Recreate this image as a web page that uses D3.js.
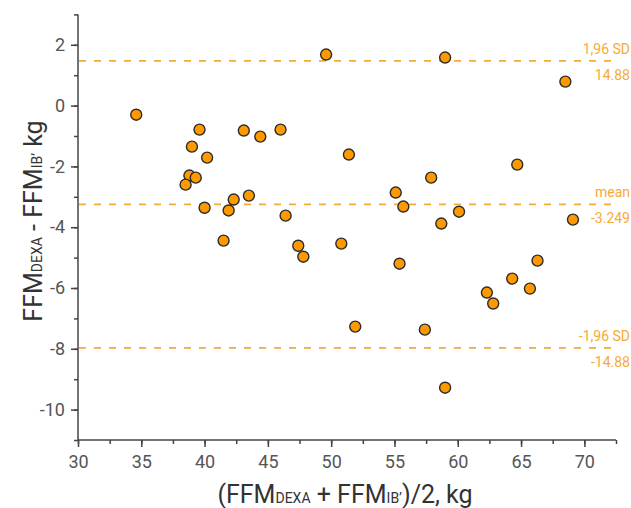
<!DOCTYPE html>
<html>
<head>
<meta charset="utf-8">
<script src="https://cdn.jsdelivr.net/npm/d3@7"></script>
<style>
  body { margin: 0; background: #fff; }
  svg { display: block; font-family: Roboto, "Open Sans", sans-serif; }
</style>
</head>
<body>
<svg id="chart" width="631" height="508"></svg>
<script>
// mean of the two methods (x) and their difference (y)
const meanFFM = [34.6, 39.6, 39.0, 40.2, 38.8, 39.3, 38.5, 40.0, 41.9, 42.3, 43.5, 41.5, 43.1,
  44.4, 46.0, 46.4, 47.4, 47.8, 49.6, 51.4, 50.8, 51.9, 55.1, 55.7, 55.4, 57.9, 57.4, 58.7,
  59.0, 60.1, 59.0, 62.3, 62.8, 64.7, 64.3, 65.7, 66.3, 68.5, 69.1];
const diffFFM = [-0.30, -0.79, -1.35, -1.71, -2.30, -2.37, -2.60, -3.36, -3.45, -3.09, -2.96, -4.44, -0.82,
  -1.02, -0.79, -3.62, -4.61, -4.97, 1.68, -1.61, -4.54, -7.27, -2.86, -3.32, -5.20, -2.37, -7.37, -3.88,
  1.58, -3.49, -9.28, -6.15, -6.51, -1.94, -5.69, -6.02, -5.10, 0.79, -3.75];

const refValues = [1.47, -3.249, -7.97];
const refNames = ['1,96 SD', 'mean', '-1,96 SD'];
const refLabels = ['14.88', '-3.249', '-14.88'];

const xTicks = [30, 35, 40, 45, 50, 55, 60, 65, 70];
const yTicks = [2, 0, -2, -4, -6, -8, -10];

const svg = d3.select('#chart');
const orange = '#ff9900';
const dashColor = '#f7aa35';

const x = d3.scaleLinear().domain([30, 72.5]).range([78, 616]);
const y = d3.scaleLinear().domain([-11, 3]).range([440, 14.4]);

// minor ticks
svg.append('g')
  .attr('transform', 'translate(0,440)')
  .call(d3.axisBottom(x).tickValues(d3.range(30, 72.6, 2.5)).tickSize(4).tickFormat(''))
  .call(g => g.select('.domain').remove())
  .selectAll('line').attr('stroke', '#444').attr('stroke-width', 1.5);

svg.append('g')
  .attr('transform', 'translate(78,0)')
  .call(d3.axisLeft(y).tickValues(d3.range(-11, 3.1, 1)).tickSize(4).tickFormat(''))
  .call(g => g.select('.domain').remove())
  .selectAll('line').attr('stroke', '#444').attr('stroke-width', 1.5);

// major axes
const xAxis = svg.append('g')
  .attr('transform', 'translate(0,440)')
  .call(d3.axisBottom(x).tickValues(xTicks).tickSize(7).tickSizeOuter(0).tickPadding(8)
    .tickFormat(d => String(d)));

const yAxis = svg.append('g')
  .attr('transform', 'translate(78,0)')
  .call(d3.axisLeft(y).tickValues(yTicks).tickSize(7).tickSizeOuter(0).tickPadding(6)
    .tickFormat(d => String(d)));

[xAxis, yAxis].forEach(ax => {
  ax.select('.domain').attr('stroke', '#444').attr('stroke-width', 1.5);
  ax.selectAll('.tick line').attr('stroke', '#444').attr('stroke-width', 1.5);
  ax.selectAll('.tick text')
    .attr('fill', '#555')
    .style('font-size', '18px')
    .style('font-family', 'Roboto, sans-serif');
});
xAxis.select('.domain').attr('d', `M${x(30)},0H${x(72.5)}`);
yAxis.select('.domain').attr('d', `M0,${y(-11)}V${y(3)}`);

// reference lines
svg.append('g').selectAll('line')
  .data(refValues)
  .join('line')
  .attr('x1', x(30) + 1)
  .attr('x2', 612)
  .attr('y1', d => y(d))
  .attr('y2', d => y(d))
  .attr('stroke', dashColor)
  .attr('stroke-width', 1.8)
  .attr('stroke-dasharray', '7,8');

const refG = svg.append('g')
  .attr('fill', dashColor)
  .style('font-size', '14px')
  .attr('text-anchor', 'end');

refG.selectAll('text.name')
  .data(refValues)
  .join('text')
  .attr('class', 'name')
  .attr('x', 630)
  .attr('y', d => y(d) - 7)
  .text((d, i) => refNames[i]);

refG.selectAll('text.val')
  .data(refValues)
  .join('text')
  .attr('class', 'val')
  .attr('x', 630)
  .attr('y', d => y(d) + 19)
  .text((d, i) => refLabels[i]);

// points
svg.append('g').selectAll('circle')
  .data(meanFFM)
  .join('circle')
  .attr('cx', d => x(d))
  .attr('cy', (d, i) => y(diffFFM[i]))
  .attr('r', 5.5)
  .attr('fill', orange)
  .attr('stroke', '#2b2b2b')
  .attr('stroke-width', 1.4);

// axis titles
const xTitle = svg.append('text')
  .attr('x', 345)
  .attr('y', 503)
  .attr('text-anchor', 'middle')
  .attr('fill', '#333')
  .style('font-size', '25px');
xTitle.append('tspan').text('(FFM');
xTitle.append('tspan').style('font-size', '14px').text('DEXA');
xTitle.append('tspan').text(' + FFM');
xTitle.append('tspan').style('font-size', '14px').text('IB\u2019');
xTitle.append('tspan').text(')/2, kg');

const yTitle = svg.append('text')
  .attr('transform', 'translate(42,221) rotate(-90)')
  .attr('text-anchor', 'middle')
  .attr('fill', '#333')
  .style('font-size', '25px');
yTitle.append('tspan').text('FFM');
yTitle.append('tspan').style('font-size', '14px').text('DEXA');
yTitle.append('tspan').text(' - FFM');
yTitle.append('tspan').style('font-size', '14px').text('IB\u2019');
yTitle.append('tspan').text(' kg');
</script>
</body>
</html>
